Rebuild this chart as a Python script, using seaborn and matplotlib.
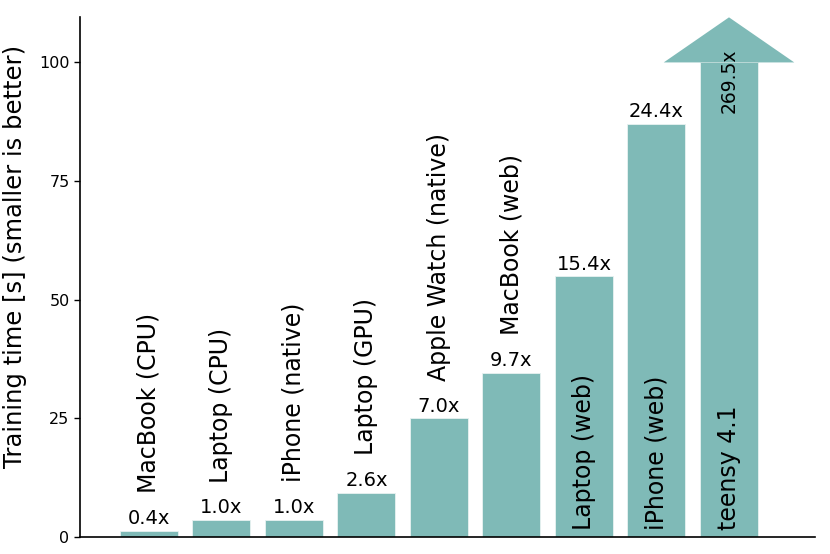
import matplotlib
matplotlib.use('Agg')
import matplotlib.pyplot as plt
import seaborn as sns
import numpy as np

devices = ['MacBook (CPU)', 'Laptop (CPU)', 'iPhone (native)', 'Laptop (GPU)',
           'Apple Watch (native)', 'MacBook (web)', 'Laptop (web)', 'iPhone (web)', 'teensy 4.1']
train_time = [1.35, 3.57, 3.6, 9.3, 25.0, 34.6, 54.9, 87.1, 962.0]
speedup = ['0.4x', '1.0x', '1.0x', '2.6x', '7.0x', '9.7x', '15.4x', '24.4x', '269.5x']

cap = 100      # bars above this are drawn as an arrow
ymax = 109.5
bar_color = '#7fbab7'

sns.set_style('white')
plt.rcParams['font.family'] = ['DejaVu Sans']
plt.rcParams['text.color'] = 'black'
plt.rcParams['axes.labelcolor'] = 'black'

fig = plt.figure(figsize=(8.3, 5.54), dpi=100)
ax = fig.add_axes([0.0964, 0.0307, 0.885, 0.938])

shown = [min(v, cap) for v in train_time]
sns.barplot(x=devices, y=shown, color=bar_color, saturation=1, width=0.8, ax=ax)

for i, (p, v) in enumerate(zip(ax.patches, train_time)):
    p.set_edgecolor('#e8f2f1')
    p.set_linewidth(0.6)
    cx = p.get_x() + p.get_width() / 2
    h = p.get_height()
    if v > cap:
        # arrow head on top of the capped bar
        ax.fill([cx - 0.9, cx, cx + 0.9], [cap, ymax, cap], color=bar_color, lw=0)
        ax.text(cx, 103, speedup[i], rotation=90, ha='center', va='top', fontsize=13.5)
        ax.text(cx, 1.5, devices[i], rotation=90, ha='center', va='bottom', fontsize=17)
    else:
        ax.annotate(speedup[i], (cx, h), xytext=(0, 2), textcoords='offset points',
                    ha='center', va='bottom', fontsize=14)
        if h > 50:
            ax.text(cx, 1.5, devices[i], rotation=90, ha='center', va='bottom', fontsize=17)
        else:
            ax.annotate(devices[i], (cx, h), xytext=(0, 27), textcoords='offset points',
                        rotation=90, ha='center', va='bottom', fontsize=17)

ax.set_xlim(-0.95, 9.18)
ax.set_ylim(0, ymax)
ax.set_yticks([0, 25, 50, 75, 100])
ax.set_xticks([])
ax.set_xlabel('')
ax.set_ylabel('Training time [s] (smaller is better)', fontsize=17.5, color='black')
ax.yaxis.set_label_coords(-0.072, 0.54)
ax.tick_params(axis='y', direction='out', length=4, width=1, left=True, labelsize=11.5, colors='black')
for s in ['top', 'right']:
    ax.spines[s].set_visible(False)
for s in ['left', 'bottom']:
    ax.spines[s].set_color('black')
    ax.spines[s].set_linewidth(1.2)

fig.savefig('out.png', dpi=100)
